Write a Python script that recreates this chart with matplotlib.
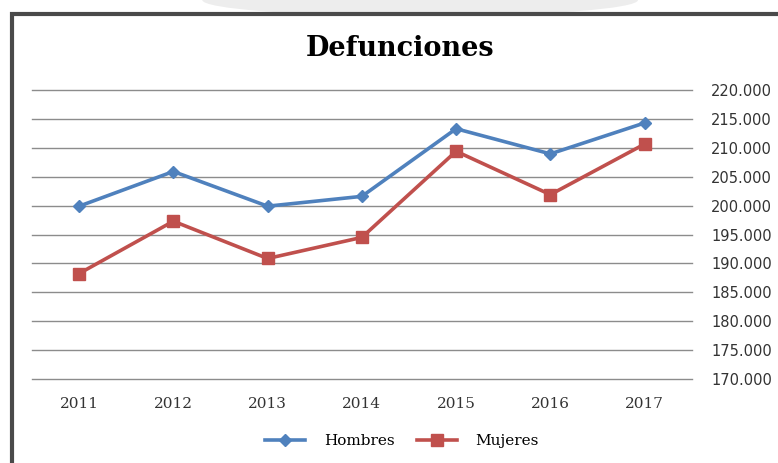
import matplotlib
matplotlib.use("Agg")
import matplotlib.pyplot as plt
from matplotlib.patches import Rectangle, Ellipse
from matplotlib.lines import Line2D
from matplotlib.ticker import FuncFormatter

years = ["2011", "2012", "2013", "2014", "2015", "2016", "2017"]
hombres = [199900, 205900, 199900, 201600, 213300, 208950, 214300]
mujeres = [188250, 197300, 190850, 194500, 209400, 201900, 210650]
y_ticks = list(range(170000, 220001, 5000))

blue = "#4F81BD"
red = "#C0504D"

plt.rcParams["font.family"] = ["DejaVu Serif"]

fig = plt.figure(figsize=(7.78, 4.63), dpi=100)

# faint shape behind the frame at the top
fig.patches.append(Ellipse((0.54, 1.0), 0.56, 0.07, transform=fig.transFigure,
                           facecolor="#ededed", edgecolor="none", zorder=-2))
# dark frame
fig.patches.append(Rectangle((0.015, -0.05), 1.2, 1.02, transform=fig.transFigure,
                             facecolor="white", edgecolor="#4a4a4a", linewidth=3, zorder=-1))

ax = fig.add_axes([0.0411, 0.1814, 0.848, 0.6242])
ax.set_zorder(2)
ax.set_facecolor("none")
x = list(range(len(years)))
ax.plot(x, hombres, color=blue, linewidth=2.6, marker="D", markersize=6.5, label="Hombres")
ax.plot(x, mujeres, color=red, linewidth=2.6, marker="s", markersize=8.5, label="Mujeres")

ax.set_xlim(-0.5, len(years) - 0.5)
ax.set_ylim(170000, 220000)
ax.set_xticks(x)
ax.set_xticklabels(years)
ax.set_yticks(y_ticks)
ax.yaxis.set_major_formatter(FuncFormatter(lambda v, p: f"{int(v):,}".replace(",", ".")))
ax.yaxis.tick_right()
ax.tick_params(axis="y", length=0, pad=14, labelsize=10.5, colors="#333333")
ax.tick_params(axis="x", length=0, pad=13, labelsize=11, colors="#333333")
for lab in ax.get_yticklabels():
    lab.set_family("DejaVu Sans")
ax.grid(axis="y", color="#8c8c8c", linewidth=1)
for gl in ax.get_ygridlines():
    gl.set_clip_on(False)
ax.set_axisbelow(True)
for s in ax.spines.values():
    s.set_visible(False)

fig.text(0.514, 0.895, "Defunciones", ha="center", va="center", fontsize=19.5,
         fontweight="bold", color="black")

handles = [Line2D([], [], color=blue, linewidth=2.6, marker="D", markersize=6.5),
           Line2D([], [], color=red, linewidth=2.6, marker="s", markersize=8.5)]
fig.legend(handles, ["Hombres", "Mujeres"], loc="center", bbox_to_anchor=(0.517, 0.047),
           ncol=2, frameon=False, fontsize=11, handlelength=2.6, columnspacing=1.45,
           handletextpad=1.25)

fig.savefig("out.png", dpi=100)
